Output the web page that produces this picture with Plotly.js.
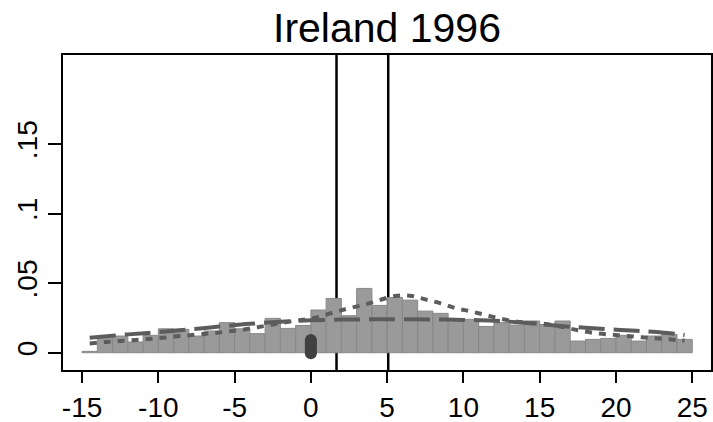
<!DOCTYPE html>
<html><head><meta charset="utf-8">
<script src="https://cdn.plot.ly/plotly-3.0.1.min.js"></script>
<style>html,body{margin:0;padding:0;background:#fff}</style>
</head><body><div id="chart" style="width:713px;height:422px"></div>
<script>
// Histogram bins (centre of each 1-unit bin) and densities
const binCenters = [-14.5,-13.5,-12.5,-11.5,-10.5,-9.5,-8.5,-7.5,-6.5,-5.5,-4.5,-3.5,-2.5,-1.5,-0.5,
  0.5,1.5,2.5,3.5,4.5,5.5,6.5,7.5,8.5,9.5,10.5,11.5,12.5,13.5,14.5,15.5,16.5,17.5,18.5,19.5,
  20.5,21.5,22.5,23.5,24.5];
const binValues = [0.001,0.0108,0.012,0.0077,0.0125,0.0172,0.0168,0.012,0.0156,0.0216,0.0172,0.0137,0.0247,
  0.0175,0.0196,0.0307,0.039,0.0266,0.0462,0.034,0.0397,0.0378,0.0299,0.0283,0.024,0.024,0.0189,
  0.0216,0.0199,0.0228,0.0203,0.0228,0.0084,0.0096,0.0103,0.0125,0.0084,0.012,0.0132,0.0096];

// Short-dash density curve
const shortX = [-14.5,-13.5,-12.5,-11.5,-10.5,-9.5,-8.5,-7.5,-6.5,-5.5,-4.5,-3.5,-2.5,-1.5,-0.5,
  0.5,1.5,2.5,3.5,4.5,5.5,6.5,7.5,8.5,9.5,10.5,11.5,12.5,13.5,14.5,15.5,16.5,17.5,18.5,19.5,
  20.5,21.5,22.5,23.5,24.5];
const shortY = [0.0067,0.0077,0.0084,0.0091,0.0100,0.0110,0.0121,0.0130,0.0140,0.0152,0.0165,0.0183,0.0203,
  0.0222,0.0237,0.0258,0.0290,0.0320,0.0345,0.0378,0.0408,0.0410,0.0383,0.0355,0.0320,0.0297,0.0270,
  0.0243,0.0223,0.0213,0.0205,0.0185,0.0162,0.0143,0.0131,0.0123,0.0113,0.0104,0.0096,0.0086];

// Long-dash density curve
const longX = [-14.5,-12,-10,-8,-6,-4,-2,0,2,4,6,8,10,12,14,16,18,20,22,24,24.5];
const longY = [0.0108,0.0132,0.0148,0.0167,0.0188,0.0208,0.0223,0.0233,0.0238,0.024,0.024,0.0239,0.0236,
  0.023,0.0215,0.0195,0.018,0.0166,0.0153,0.0135,0.0127];

// Marker at zero
const capX = [0, 0];
const capY = [-0.0004, 0.0091];

// Vertical reference lines
const refLines = [1.68, 5.07];

// Axis ticks
const xTicks = [-15,-10,-5,0,5,10,15,20,25];
const xTickText = ['-15','-10','-5','0','5','10','15','20','25'];
const yTicks = [0,0.05,0.1,0.15];
const yTickText = ['0','.05','.1','.15'];

const dashColor = '#5c5c5c';
const traces = [
  {type:'bar', x:binCenters, y:binValues, width:1,
   marker:{color:'#9a9a9a', line:{color:'#888888', width:1}}, hoverinfo:'skip'},
  {type:'scatter', mode:'lines', x:longX, y:longY, line:{color:dashColor, width:4, dash:'26px,9px', shape:'spline'}, hoverinfo:'skip'},
  {type:'scatter', mode:'lines', x:shortX, y:shortY, line:{color:dashColor, width:4, dash:'7px,7px', shape:'spline'}, hoverinfo:'skip'},
  {type:'scatter', mode:'lines+markers', x:capX, y:capY, line:{color:'#404040', width:12},
   marker:{color:'#404040', size:12, line:{width:0}}, hoverinfo:'skip'}
];

const shapes = refLines.map(v => ({type:'line', xref:'x', yref:'paper', x0:v, x1:v, y0:0, y1:1,
  layer:'below', line:{color:'#000', width:2.5}}));

const font = {family:'"Liberation Sans", Arial, sans-serif', color:'#000', size:28};
const layout = {
  width:713, height:422,
  margin:{l:63, r:2, t:55, b:52, pad:0},
  paper_bgcolor:'#fff', plot_bgcolor:'#fff',
  showlegend:false, bargap:0, barmode:'overlay',
  font:font,
  title:{text:'Ireland 1996', x:0.5, xref:'paper', xanchor:'center', y:0.935, yref:'container', yanchor:'middle',
    font:{family:'"Liberation Sans", Arial, sans-serif', size:41, color:'#000'}},
  xaxis:{range:[-16.25,26.23], tickvals:xTicks, ticktext:xTickText, ticks:'outside', ticklen:11, tickwidth:2,
    tickcolor:'#000', showline:true, linecolor:'#000', linewidth:2, mirror:true, showgrid:false, zeroline:false,
    tickfont:font, ticklabelstandoff:0},
  yaxis:{range:[-0.0124,0.2139], tickvals:yTicks, ticktext:yTickText, ticks:'outside', ticklen:13, tickwidth:2,
    tickcolor:'#000', showline:true, linecolor:'#000', linewidth:2, mirror:true, showgrid:false, zeroline:false,
    tickangle:-90, tickfont:font, ticklabelstandoff:0},
  shapes:shapes,
  hovermode:false
};
Plotly.newPlot('chart', traces, layout, {displayModeBar:false, staticPlot:true});
</script>
</body></html>
